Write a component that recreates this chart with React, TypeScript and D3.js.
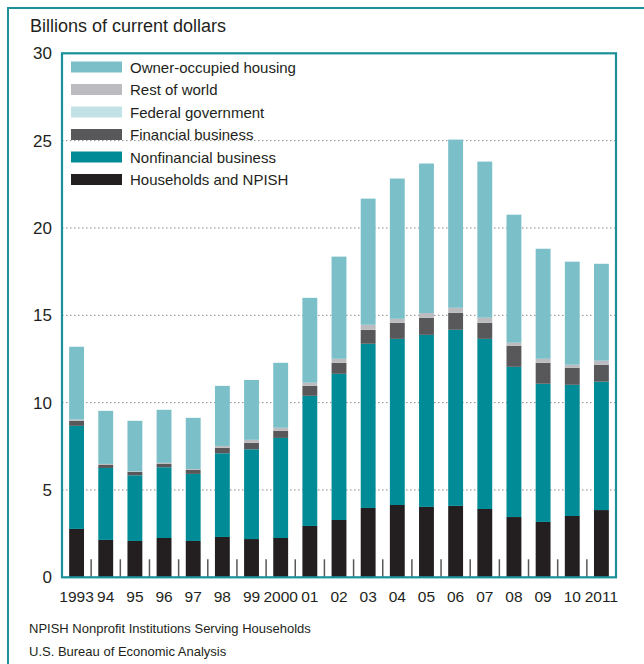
import React from "react";
import * as d3 from "d3";

const years = ["1993","94","95","96","97","98","99","2000","01","02","03","04","05","06","07","08","09","10","2011"];
const households = [2.77, 2.14, 2.08, 2.25, 2.08, 2.31, 2.19, 2.25, 2.94, 3.28, 3.97, 4.14, 4.03, 4.09, 3.91, 3.45, 3.17, 3.51, 3.85];
const nonfinancial = [5.90, 4.12, 3.76, 4.05, 3.84, 4.79, 5.14, 5.73, 7.45, 8.37, 9.40, 9.51, 9.85, 10.08, 9.74, 8.60, 7.91, 7.51, 7.35];
const financial = [0.29, 0.17, 0.19, 0.19, 0.23, 0.31, 0.37, 0.40, 0.57, 0.63, 0.80, 0.92, 0.98, 0.97, 0.92, 1.21, 1.20, 0.98, 0.97];
const federal = [0, 0, 0, 0, 0, 0, 0, 0, 0, 0, 0, 0, 0, 0, 0, 0, 0, 0, 0];
const restOfWorld = [0.07, 0.06, 0.04, 0.06, 0.05, 0.11, 0.17, 0.18, 0.18, 0.23, 0.29, 0.23, 0.27, 0.29, 0.29, 0.17, 0.23, 0.17, 0.23];
const ownerHousing = [4.17, 3.04, 2.89, 3.04, 2.93, 3.44, 3.43, 3.72, 4.86, 5.85, 7.22, 8.03, 8.56, 9.63, 8.94, 7.33, 6.30, 5.90, 5.55];
const yTicks = [0, 5, 10, 15, 20, 25, 30];

const seriesKeys = ["hh", "nf", "fin", "fed", "row", "ooh"];
const seriesNames: Record<string, string> = {
  hh: "Households and NPISH",
  nf: "Nonfinancial business",
  fin: "Financial business",
  fed: "Federal government",
  row: "Rest of world",
  ooh: "Owner-occupied housing",
};
const colors: Record<string, string> = {
  hh: "#231f20",
  nf: "#008b96",
  fin: "#58585a",
  fed: "#c3e2e6",
  row: "#bcbcc0",
  ooh: "#7bbfc8",
};
const legendOrder = ["ooh", "row", "fed", "fin", "nf", "hh"];

const TEAL = "#1a9199";
const FONT = "'Liberation Sans', Arial, Helvetica, sans-serif";

export default function App() {
  const W = 644, H = 664;
  const left = 62, right = 616, top = 53.3, bottom = 577.3;

  const rows = years.map((y, i) => ({
    year: y,
    hh: households[i],
    nf: nonfinancial[i],
    fin: financial[i],
    fed: federal[i],
    row: restOfWorld[i],
    ooh: ownerHousing[i],
  }));
  const stack = d3.stack<any>().keys(seriesKeys);
  const layers = stack(rows);

  const x = d3.scaleBand<string>().domain(years).range([left, right]).paddingInner(0.49).paddingOuter(0.245);
  const y = d3.scaleLinear().domain([0, 30]).range([bottom, top]);
  const step = x.step();

  return (
    <svg width={W} height={H} style={{ display: "block", position: "absolute", left: 0, top: 0 }}>
      <rect x={0} y={0} width={W} height={H} fill="#fff" />
      {/* outer frame */}
      <line x1={7} x2={W} y1={8} y2={8} stroke={TEAL} strokeWidth={2} />
      <line x1={8} x2={8} y1={7} y2={H} stroke={TEAL} strokeWidth={2} />

      <text x={30} y={32} fontFamily={FONT} fontSize={18} fill="#231f20">Billions of current dollars</text>

      {/* grid */}
      {yTicks.filter(t => t > 0 && t < 30).map(t => (
        <line key={t} x1={left} x2={right} y1={y(t)} y2={y(t)} stroke="#8a8a8a" strokeWidth={1} strokeDasharray="1.5,2.5" />
      ))}

      {/* y labels */}
      {yTicks.map(t => (
        <text key={t} x={52} y={y(t) + 6} textAnchor="end" fontFamily={FONT} fontSize={17} fill="#231f20">{t}</text>
      ))}

      {/* bars */}
      {layers.map(layer => (
        <g key={layer.key} fill={colors[layer.key]}>
          {layer.map((d, i) => {
            const h = y(d[0]) - y(d[1]);
            if (h <= 0) return null;
            return <rect key={i} x={x(years[i])} y={y(d[1])} width={x.bandwidth()} height={h} />;
          })}
        </g>
      ))}

      {/* bottom ticks between bars */}
      {years.slice(1).map((yr, i) => {
        const bx = (x(yr) as number) - (step - x.bandwidth()) / 2;
        return <line key={yr} x1={bx} x2={bx} y1={bottom - 18} y2={bottom} stroke="#58585a" strokeWidth={1.5} />;
      })}

      {/* legend */}
      {legendOrder.map((k, i) => {
        const cy = 67 + i * 22.5;
        return (
          <g key={k}>
            <rect x={71} y={cy - 5.5} width={51} height={11} fill={colors[k]} />
            <text x={130} y={cy + 5.5} fontFamily={FONT} fontSize={15} fill="#231f20">{seriesNames[k]}</text>
          </g>
        );
      })}

      {/* plot frame */}
      <rect x={left} y={top} width={right - left} height={bottom - top} fill="none" stroke={TEAL} strokeWidth={2.2} />

      {/* x labels */}
      {years.map(yr => (
        <text key={yr} x={(x(yr) as number) + x.bandwidth() / 2} y={602} textAnchor="middle" fontFamily={FONT} fontSize={15.5} fill="#231f20">{yr}</text>
      ))}

      <text x={29} y={633} fontFamily={FONT} fontSize={13} fill="#231f20">NPISH Nonprofit Institutions Serving Households</text>
      <text x={29} y={656} fontFamily={FONT} fontSize={13} fill="#231f20">U.S. Bureau of Economic Analysis</text>
    </svg>
  );
}
